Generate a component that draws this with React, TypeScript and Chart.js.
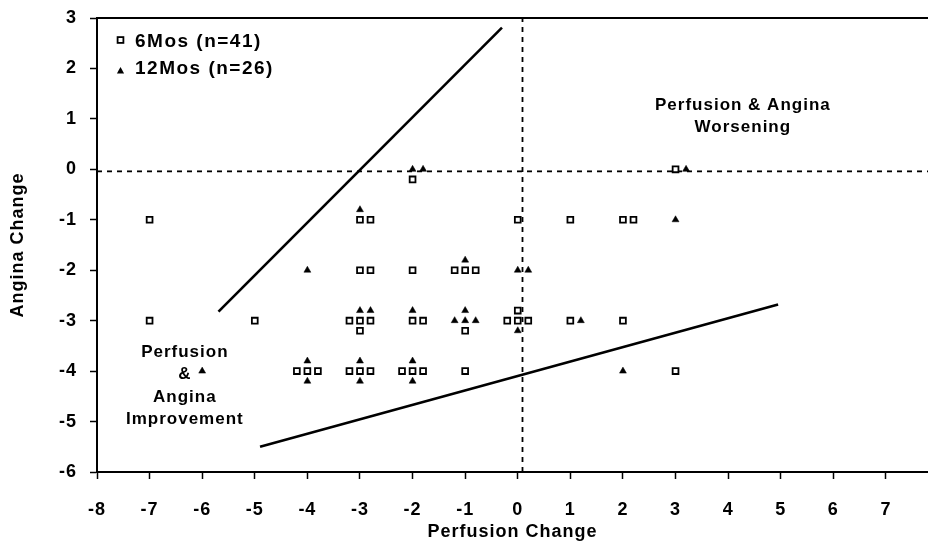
import React, { useEffect, useRef } from 'react';
import { Chart, registerables } from 'chart.js';

Chart.register(...registerables);

const FONT = "'Liberation Sans', Arial, Helvetica, sans-serif";

// Tick values
const xTickValues = [-8, -7, -6, -5, -4, -3, -2, -1, 0, 1, 2, 3, 4, 5, 6, 7];
const yTickValues = [-6, -5, -4, -3, -2, -1, 0, 1, 2, 3];

// 6 months (n=41) — open squares
const sixMosX = [
  -7, -7, -5, -2, -3, -2.8, 0, 1, 2, 2.2, 3,
  -3, -2.8, -2, -1.2, -1, -0.8,
  -3.2, -3, -2.8, -3, -2, -1.8, -1, 0, -0.2, 0, 0.2, 1, 2,
  3, -4.2, -4, -3.8, -3.2, -3, -2.8, -2.2, -2, -1.8, -1,
];
const sixMosY = [
  -1, -3, -3, -0.2, -1, -1, -1, -1, -1, -1, 0,
  -2, -2, -2, -2, -2, -2,
  -3, -3, -3, -3.2, -3, -3, -3.2, -2.8, -3, -3, -3, -3, -3,
  -4, -4, -4, -4, -4, -4, -4, -4, -4, -4, -4,
];

// 12 months (n=26) — filled triangles
const twelveMosX = [
  -2, -1.8, -3, 3.2, 3, -4, -1, 0, 0.2, -6,
  -3, -2.8, -2, -1, -1.2, -1, -0.8, 0, 1.2, 2,
  -4, -4, -3, -3, -2, -2,
];
const twelveMosY = [
  0, 0, -0.8, 0, -1, -2, -1.8, -2, -2, -4,
  -2.8, -2.8, -2.8, -2.8, -3, -3, -3, -3.2, -3, -4,
  -3.8, -4.2, -3.8, -4.2, -3.8, -4.2,
];

// Solid boundary lines
const improvementLineX = [-5.69, -0.3];
const improvementLineY = [-2.82, 2.81];
const worseningLineX = [-4.9, 4.95];
const worseningLineY = [-5.5, -2.68];

// Dashed reference lines
const refHorizontalX = [-8, 7.8];
const refHorizontalY = [-0.04, -0.04];
const refVerticalX = [0.09, 0.09];
const refVerticalY = [-6, 3];

const legendLabels = ['6Mos (n=41)', '12Mos (n=26)'];
const worseningText = ['Perfusion & Angina', 'Worsening'];
const improvementText = ['Perfusion', '&', 'Angina', 'Improvement'];

const pts = (xs: number[], ys: number[]) => xs.map((x, i) => ({ x, y: ys[i] }));

function drawSquare(ctx: CanvasRenderingContext2D, x: number, y: number) {
  ctx.save();
  ctx.fillStyle = '#fff';
  ctx.strokeStyle = '#000';
  ctx.lineWidth = 1.8;
  ctx.fillRect(x - 2.9, y - 2.9, 5.8, 5.8);
  ctx.strokeRect(x - 2.9, y - 2.9, 5.8, 5.8);
  ctx.restore();
}

function drawTriangle(ctx: CanvasRenderingContext2D, x: number, y: number) {
  ctx.save();
  ctx.fillStyle = '#000';
  ctx.beginPath();
  ctx.moveTo(x, y - 4);
  ctx.lineTo(x + 3.6, y + 2.5);
  ctx.lineTo(x - 3.6, y + 2.5);
  ctx.closePath();
  ctx.fill();
  ctx.restore();
}

const overlayPlugin = {
  id: 'overlay',
  beforeDraw(chart: any) {
    (chart.ctx as any).letterSpacing = '1px';
  },
  afterDraw(chart: any) {
    const ctx: CanvasRenderingContext2D = chart.ctx;
    const { left, right, top } = chart.chartArea;
    const xs = chart.scales.x;
    const ys = chart.scales.y;
    ctx.save();
    // top frame line
    ctx.strokeStyle = '#000';
    ctx.lineWidth = 2;
    ctx.beginPath();
    ctx.moveTo(left, top);
    ctx.lineTo(right, top);
    ctx.stroke();

    // legend
    ctx.fillStyle = '#000';
    ctx.textAlign = 'left';
    ctx.textBaseline = 'alphabetic';
    ctx.font = `bold 19px ${FONT}`;
    (ctx as any).letterSpacing = '1.5px';
    drawSquare(ctx, left + 23.5, top + 22);
    ctx.fillText(legendLabels[0], left + 38, top + 29);
    drawTriangle(ctx, left + 23.5, top + 53);
    ctx.fillText(legendLabels[1], left + 38, top + 56);

    // annotations
    ctx.font = `bold 17px ${FONT}`;
    (ctx as any).letterSpacing = '1px';
    ctx.textAlign = 'center';
    const wx = xs.getPixelForValue(4.28);
    const wy = ys.getPixelForValue(1.167);
    worseningText.forEach((t, i) => ctx.fillText(t, wx, wy + i * 21.3));
    const ix = xs.getPixelForValue(-6.33);
    const iy = ys.getPixelForValue(-3.72);
    improvementText.forEach((t, i) => ctx.fillText(t, ix, iy + i * 22.3));
    ctx.restore();
  },
};

export default function App() {
  const ref = useRef<HTMLCanvasElement>(null);
  useEffect(() => {
    const canvas = ref.current!;
    const chart = new Chart(canvas, {
      type: 'scatter',
      data: {
        datasets: [
          {
            label: legendLabels[0],
            data: pts(sixMosX, sixMosY),
            pointStyle: 'rect',
            pointRadius: 4.1,
            pointBorderWidth: 1.8,
            pointBackgroundColor: '#fff',
            pointBorderColor: '#000',
          },
          {
            label: legendLabels[1],
            data: pts(twelveMosX, twelveMosY),
            pointStyle: 'triangle',
            pointRadius: 4,
            pointBorderWidth: 0.5,
            pointBackgroundColor: '#000',
            pointBorderColor: '#000',
          },
          {
            label: 'improvement',
            data: pts(improvementLineX, improvementLineY),
            showLine: true,
            pointRadius: 0,
            borderColor: '#000',
            borderWidth: 2.6,
          },
          {
            label: 'worsening',
            data: pts(worseningLineX, worseningLineY),
            showLine: true,
            pointRadius: 0,
            borderColor: '#000',
            borderWidth: 2.6,
          },
          {
            label: 'refH',
            data: pts(refHorizontalX, refHorizontalY),
            showLine: true,
            pointRadius: 0,
            borderColor: '#000',
            borderWidth: 1.8,
            borderDash: [5, 5],
          },
          {
            label: 'refV',
            data: pts(refVerticalX, refVerticalY),
            showLine: true,
            pointRadius: 0,
            borderColor: '#000',
            borderWidth: 1.8,
            borderDash: [5, 5],
          },
        ],
      },
      options: {
        animation: false,
        responsive: false,
        maintainAspectRatio: false,
        devicePixelRatio: 1,
        layout: { autoPadding: false, padding: { top: 18, left: 0, right: 0, bottom: 0 } },
        plugins: { legend: { display: false }, tooltip: { enabled: false } },
        scales: {
          x: {
            type: 'linear',
            min: -8,
            max: 7.8,
            afterFit: (s: any) => {
              s.height = 71;
              s.paddingLeft = 0;
              s.paddingRight = 0;
            },
            afterBuildTicks: (s: any) => {
              s.ticks = xTickValues.map((v) => ({ value: v }));
            },
            grid: {
              display: true,
              drawOnChartArea: false,
              drawTicks: true,
              tickLength: 7,
              tickWidth: 1.5,
              tickColor: '#000',
              color: '#000',
            },
            border: { display: true, color: '#000', width: 2 },
            ticks: {
              padding: 20,
              color: '#000',
              maxRotation: 0,
              autoSkip: false,
              font: { size: 18, weight: 'bold', family: FONT },
            },
            title: {
              display: true,
              text: 'Perfusion Change',
              color: '#000',
              font: { size: 18, weight: 'bold', family: FONT },
              padding: { top: 0, bottom: 0 },
            },
          },
          y: {
            type: 'linear',
            min: -6,
            max: 3,
            afterFit: (s: any) => {
              s.width = 97;
              s.paddingTop = 0;
              s.paddingBottom = 0;
            },
            afterBuildTicks: (s: any) => {
              s.ticks = yTickValues.map((v) => ({ value: v }));
            },
            grid: {
              display: true,
              drawOnChartArea: false,
              drawTicks: true,
              tickLength: 7,
              tickWidth: 1.5,
              tickColor: '#000',
              color: '#000',
            },
            border: { display: true, color: '#000', width: 2 },
            ticks: {
              padding: 13,
              color: '#000',
              font: { size: 18, weight: 'bold', family: FONT },
            },
            title: {
              display: true,
              text: 'Angina Change',
              color: '#000',
              font: { size: 18, weight: 'bold', family: FONT },
              padding: { top: 7, bottom: 0 },
            },
          },
        },
      },
      plugins: [overlayPlugin],
    } as any);
    return () => chart.destroy();
  }, []);
  return (
    <div style={{ position: 'fixed', left: 0, top: 0, width: 928, height: 543, background: '#fff' }}>
      <canvas ref={ref} width={928} height={543} style={{ display: 'block', width: 928, height: 543 }} />
    </div>
  );
}
